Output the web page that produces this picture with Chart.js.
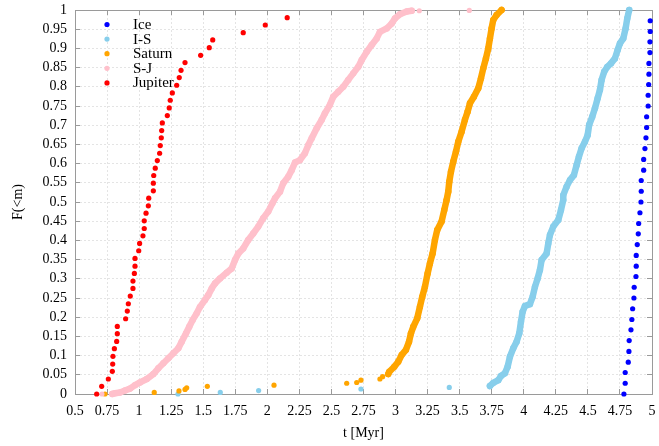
<!DOCTYPE html>
<html>
<head>
<meta charset="utf-8">
<script src="https://cdn.jsdelivr.net/npm/chart.js@4.4.0/dist/chart.umd.min.js"></script>
<style>
  html, body { margin: 0; padding: 0; background: #fff; }
  canvas { display: block; }
</style>
</head>
<body>
<canvas id="cdf" width="659" height="446"></canvas>
<script>
// Cumulative fraction F(<m) against time t [Myr] for each population.

const seriesNames = ['Ice', 'I-S', 'Saturn', 'S-J', 'Jupiter'];

const iceT = [4.781, 4.791, 4.791, 4.815, 4.820, 4.822, 4.836, 4.843, 4.849, 4.859, 4.861, 4.875,
  4.877, 4.877, 4.885, 4.893, 4.896, 4.906, 4.914, 4.916, 4.916, 4.935, 4.935, 4.945,
  4.953, 4.958, 4.958, 4.970, 4.970, 4.974, 4.976, 4.976, 4.984, 4.984, 4.986, 4.986];
const iceF = [0, 0.028, 0.056, 0.083, 0.111, 0.139, 0.167, 0.194, 0.222, 0.250, 0.278, 0.306,
  0.333, 0.361, 0.389, 0.417, 0.444, 0.472, 0.500, 0.528, 0.556, 0.583, 0.611, 0.639,
  0.667, 0.694, 0.722, 0.750, 0.778, 0.806, 0.833, 0.861, 0.889, 0.917, 0.944, 0.972];

const isEarlyT = [1.303, 1.633, 1.932, 2.730, 3.419];
const isEarlyF = [0, 0.004, 0.009, 0.013, 0.017];
const isMainT = [3.736, 3.762, 3.801, 3.822, 3.853, 3.874, 3.892, 3.918, 3.944, 3.965, 3.978, 3.991,
  4.009, 4.048, 4.069, 4.087, 4.108, 4.126, 4.139, 4.178, 4.191, 4.204, 4.230, 4.269, 4.290, 4.308,
  4.308, 4.334, 4.360, 4.391, 4.412, 4.430, 4.451, 4.477, 4.498, 4.510, 4.534, 4.555, 4.576, 4.594,
  4.607, 4.627, 4.651, 4.680, 4.711, 4.732, 4.750, 4.776, 4.794, 4.807, 4.822];
const isMainF = [0.021, 0.029, 0.036, 0.047, 0.054, 0.071, 0.097, 0.119, 0.136, 0.158, 0.188, 0.214,
  0.229, 0.234, 0.253, 0.279, 0.301, 0.323, 0.349, 0.366, 0.392, 0.414, 0.436, 0.453, 0.479, 0.505,
  0.518, 0.540, 0.557, 0.570, 0.596, 0.618, 0.640, 0.657, 0.674, 0.701, 0.722, 0.744, 0.770, 0.792,
  0.818, 0.839, 0.852, 0.861, 0.874, 0.896, 0.913, 0.926, 0.952, 0.978, 1.0];

const saturnEarlyT = [0.734, 1.118, 1.311, 1.358, 1.371, 1.532, 2.052, 2.619, 2.697, 2.730, 2.878, 2.899];
const saturnEarlyF = [0, 0.004, 0.008, 0.012, 0.016, 0.020, 0.023, 0.028, 0.030, 0.036, 0.039, 0.045];
const saturnMainT = [2.943, 2.951, 2.990, 3.021, 3.048, 3.081, 3.105, 3.120, 3.138, 3.169, 3.190,
  3.208, 3.229, 3.250, 3.268, 3.289, 3.307, 3.325, 3.359, 3.380, 3.398, 3.411, 3.419, 3.432, 3.450,
  3.471, 3.489, 3.515, 3.541, 3.562, 3.580, 3.611, 3.645, 3.666, 3.684, 3.705, 3.723, 3.736, 3.749,
  3.762, 3.788, 3.827];
const saturnMainF = [0.052, 0.058, 0.071, 0.084, 0.102, 0.115, 0.136, 0.158, 0.175, 0.197, 0.227,
  0.253, 0.279, 0.314, 0.340, 0.366, 0.401, 0.427, 0.449, 0.479, 0.505, 0.527, 0.553, 0.579, 0.605,
  0.631, 0.657, 0.683, 0.714, 0.735, 0.757, 0.774, 0.796, 0.822, 0.848, 0.874, 0.900, 0.926, 0.952,
  0.974, 0.987, 1.0];

const sjStrayT = [0.710, 3.185, 3.575];
const sjStrayF = [0, 0.998, 0.999];
const sjMainT = [0.790, 0.812, 0.851, 0.890, 0.929, 0.968, 1.007, 1.059, 1.111, 1.150, 1.189, 1.228,
  1.267, 1.306, 1.332, 1.366, 1.391, 1.418, 1.449, 1.475, 1.514, 1.540, 1.566, 1.592, 1.631, 1.683,
  1.722, 1.748, 1.774, 1.812, 1.851, 1.890, 1.929, 1.968, 2.007, 2.040, 2.060, 2.099, 2.124, 2.163,
  2.190, 2.216, 2.254, 2.293, 2.319, 2.346, 2.385, 2.424, 2.449, 2.488, 2.514, 2.553, 2.592, 2.631,
  2.670, 2.709, 2.736, 2.775, 2.814, 2.853, 2.878, 2.931, 2.970, 2.995, 3.034, 3.087, 3.126];
const sjMainF = [0, 0.002, 0.004, 0.009, 0.014, 0.023, 0.030, 0.039, 0.052, 0.067, 0.080, 0.093,
  0.106, 0.119, 0.136, 0.158, 0.175, 0.193, 0.210, 0.227, 0.245, 0.258, 0.275, 0.288, 0.301, 0.316,
  0.327, 0.349, 0.366, 0.379, 0.401, 0.418, 0.436, 0.458, 0.475, 0.497, 0.510, 0.527, 0.549, 0.566,
  0.583, 0.603, 0.609, 0.627, 0.648, 0.666, 0.692, 0.714, 0.731, 0.753, 0.774, 0.787, 0.800, 0.818,
  0.835, 0.852, 0.870, 0.891, 0.909, 0.926, 0.943, 0.952, 0.965, 0.978, 0.989, 0.996, 0.998];

const jupiterT = [0.669, 0.708, 0.760, 0.791, 0.794, 0.796, 0.807, 0.825, 0.830, 0.830, 0.895, 0.908,
  0.916, 0.931, 0.952, 0.952, 0.963, 0.968, 0.968, 0.997, 1.004, 1.030, 1.040, 1.040, 1.054, 1.072,
  1.075, 1.111, 1.111, 1.114, 1.126, 1.142, 1.160, 1.165, 1.173, 1.176, 1.181, 1.220, 1.235, 1.243,
  1.259, 1.293, 1.313, 1.327, 1.358, 1.480, 1.547, 1.574, 1.812, 1.984, 2.155];
const jupiterF = [0, 0.020, 0.039, 0.059, 0.078, 0.098, 0.118, 0.137, 0.157, 0.176, 0.196, 0.216,
  0.235, 0.255, 0.275, 0.294, 0.314, 0.333, 0.353, 0.373, 0.392, 0.412, 0.431, 0.451, 0.471, 0.490,
  0.510, 0.529, 0.549, 0.569, 0.588, 0.608, 0.627, 0.647, 0.667, 0.686, 0.706, 0.725, 0.745, 0.765,
  0.784, 0.804, 0.824, 0.843, 0.863, 0.882, 0.902, 0.922, 0.941, 0.961, 0.980];

const xTickValues = [0.5, 0.75, 1, 1.25, 1.5, 1.75, 2, 2.25, 2.5, 2.75, 3, 3.25, 3.5, 3.75, 4, 4.25, 4.5, 4.75, 5];
const xTickLabels = ['0.5', '0.75', '1', '1.25', '1.5', '1.75', '2', '2.25', '2.5', '2.75', '3', '3.25',
  '3.5', '3.75', '4', '4.25', '4.5', '4.75', '5'];
const yTickValues = [0, 0.05, 0.1, 0.15, 0.2, 0.25, 0.3, 0.35, 0.4, 0.45, 0.5, 0.55, 0.6, 0.65, 0.7,
  0.75, 0.8, 0.85, 0.9, 0.95, 1];
const yTickLabels = ['0', '0.05', '0.1', '0.15', '0.2', '0.25', '0.3', '0.35', '0.4', '0.45', '0.5',
  '0.55', '0.6', '0.65', '0.7', '0.75', '0.8', '0.85', '0.9', '0.95', '1'];

const colors = {
  'Ice': '#0000ff',
  'I-S': '#87ceeb',
  'Saturn': '#ffa500',
  'S-J': '#ffc0cb',
  'Jupiter': '#ff0000'
};

const FONT = 'Liberation Serif, Times New Roman, serif';
const AXIS_GREY = '#9a9a9a';
const DOT = 2.6;

function points(ts, fs) {
  return ts.map((t, i) => ({ x: t, y: fs[i] }));
}

function dots(name, ts, fs, order) {
  return {
    label: name,
    data: points(ts, fs),
    showLine: false,
    pointRadius: DOT,
    pointHoverRadius: DOT,
    pointBorderWidth: 0,
    pointBackgroundColor: colors[name],
    backgroundColor: colors[name],
    borderColor: colors[name],
    order: order
  };
}

// Densely sampled runs are drawn as a thick band through their points.
function band(name, ts, fs, order) {
  return {
    label: name,
    data: points(ts, fs),
    showLine: true,
    tension: 0,
    borderWidth: 6.5,
    borderColor: colors[name],
    borderCapStyle: 'round',
    borderJoinStyle: 'round',
    pointRadius: 3.2,
    pointHoverRadius: 3.2,
    pointBorderWidth: 0,
    pointBackgroundColor: colors[name],
    backgroundColor: colors[name],
    order: order
  };
}

const datasets = [
  dots('Ice', iceT, iceF, 5),
  band('I-S', isMainT, isMainF, 4),
  dots('I-S', isEarlyT, isEarlyF, 4),
  band('Saturn', saturnMainT, saturnMainF, 3),
  dots('Saturn', saturnEarlyT, saturnEarlyF, 3),
  band('S-J', sjMainT, sjMainF, 2),
  dots('S-J', sjStrayT, sjStrayF, 2),
  dots('Jupiter', jupiterT, jupiterF, 1)
];
datasets.forEach(d => { d.xAxisID = 'x'; d.yAxisID = 'y'; d.clip = 6; });

// Legend drawn inside the top-left corner of the plot area.
const innerLegend = {
  id: 'innerLegend',
  afterDraw(chart) {
    const { ctx, chartArea } = chart;
    const mx = chartArea.left + 32;
    const tx = chartArea.left + 58;
    const y0 = chartArea.top + 14.5;
    const step = 14.6;
    ctx.save();
    ctx.font = '15px ' + FONT;
    ctx.textBaseline = 'middle';
    ctx.textAlign = 'left';
    seriesNames.forEach((name, i) => {
      const y = y0 + i * step;
      ctx.beginPath();
      ctx.arc(mx, y, DOT, 0, Math.PI * 2);
      ctx.fillStyle = colors[name];
      ctx.fill();
      ctx.fillStyle = '#000';
      ctx.fillText(name, tx, y + 0.5);
    });
    ctx.restore();
  }
};

function fixedTicks(values) {
  return scale => { scale.ticks = values.map(v => ({ value: v })); };
}

// Fixed axis band sizes; the tick-label overhang is kept inside the outer margins.
function fixedSize(h, w) {
  return scale => {
    if (h !== null) scale.height = h;
    if (w !== null) scale.width = w;
    scale.paddingLeft = 0;
    scale.paddingRight = 0;
    scale.paddingTop = 0;
    scale.paddingBottom = 0;
  };
}

const tickFont = { family: FONT, size: 14 };

new Chart(document.getElementById('cdf'), {
  type: 'scatter',
  data: { datasets },
  plugins: [innerLegend],
  options: {
    responsive: false,
    animation: false,
    events: [],
    layout: { autoPadding: false, padding: { left: 0, right: 7, top: 10, bottom: 0 } },
    plugins: {
      legend: { display: false },
      tooltip: { enabled: false }
    },
    scales: {
      x: {
        type: 'linear',
        position: 'bottom',
        min: 0.5,
        max: 5,
        afterBuildTicks: fixedTicks(xTickValues),
        afterFit: fixedSize(52, null),
        ticks: {
          callback: v => xTickLabels[xTickValues.indexOf(v)],
          color: '#000',
          font: tickFont,
          padding: 14,
          maxRotation: 0,
          autoSkip: false
        },
        grid: { color: '#e4e4e4', lineWidth: 1, drawTicks: true, tickLength: -5, tickColor: AXIS_GREY },
        border: { color: AXIS_GREY, width: 1, dash: [2, 2] },
        title: { display: true, text: 't [Myr]', color: '#000', font: tickFont, padding: { top: 0, bottom: 4.5 } }
      },
      y: {
        type: 'linear',
        position: 'left',
        min: 0,
        max: 1,
        afterBuildTicks: fixedTicks(yTickValues),
        afterFit: fixedSize(null, 75),
        ticks: {
          callback: v => yTickLabels[yTickValues.indexOf(v)],
          color: '#000',
          font: tickFont,
          padding: 13,
          autoSkip: false
        },
        grid: { color: '#e4e4e4', lineWidth: 1, drawTicks: true, tickLength: -5, tickColor: AXIS_GREY },
        border: { color: AXIS_GREY, width: 1, dash: [2, 2] },
        title: { display: true, text: 'F(<m)', color: '#000', font: tickFont, padding: { top: 10, bottom: 0 } }
      },
      x2: {
        type: 'linear',
        position: 'top',
        min: 0.5,
        max: 5,
        afterBuildTicks: fixedTicks(xTickValues),
        afterFit: fixedSize(0, null),
        ticks: { display: false },
        grid: { drawOnChartArea: false, drawTicks: true, tickLength: -5, tickColor: AXIS_GREY },
        border: { color: AXIS_GREY, width: 1 }
      },
      y2: {
        type: 'linear',
        position: 'right',
        min: 0,
        max: 1,
        afterBuildTicks: fixedTicks(yTickValues),
        afterFit: fixedSize(null, 0),
        ticks: { display: false },
        grid: { drawOnChartArea: false, drawTicks: true, tickLength: -5, tickColor: AXIS_GREY },
        border: { color: AXIS_GREY, width: 1 }
      }
    }
  }
});
</script>
</body>
</html>
